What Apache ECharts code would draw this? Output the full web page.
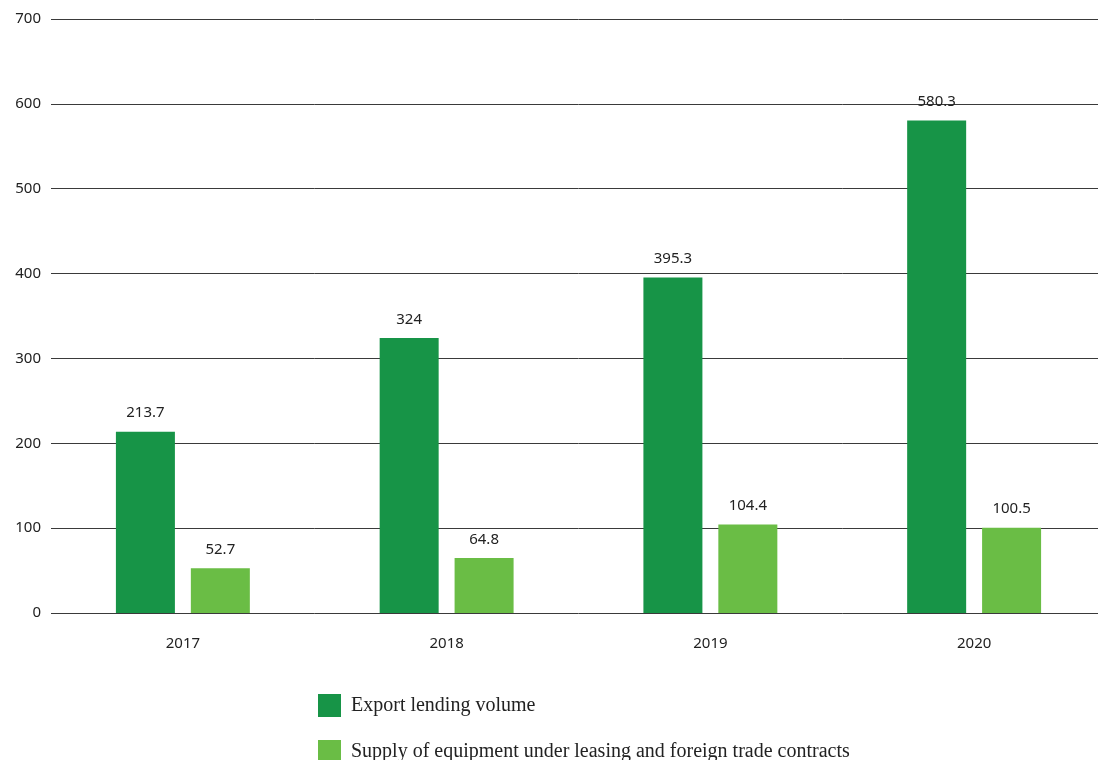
<!DOCTYPE html>
<html><head><meta charset="utf-8">
<script src="https://cdn.jsdelivr.net/npm/echarts@6/dist/echarts.min.js"></script>
<style>html,body{margin:0;padding:0;background:#fff;overflow:hidden}#c{width:1106px;height:760px}</style>
</head><body><div id="c"></div>
<script>
const categories = ['2017', '2018', '2019', '2020'];
const exportLending = [213.7, 324, 395.3, 580.3];
const supplyEquipment = [52.7, 64.8, 104.4, 100.5];
const seriesNames = ['Export lending volume', 'Supply of equipment under leasing and foreign trade contracts'];

const chart = echarts.init(document.getElementById('c'));
const labelStyle = {show: true, position: 'top', distance: 11, color: '#222', fontSize: 15, fontFamily: 'Noto Sans'};
const legendBase = {
  orient: 'vertical', left: 313, itemWidth: 23, itemHeight: 23,
  icon: 'rect',
  textStyle: {fontFamily: 'Liberation Serif', fontSize: 20, color: '#222', padding: [0, 0, 0, 5]}
};
chart.setOption({
  animation: false,
  textStyle: {fontFamily: 'Noto Sans'},
  grid: {left: 51, right: 0, top: 19, bottom: 147, containLabel: false},
  legend: [
    Object.assign({}, legendBase, {top: 689, data: [seriesNames[0]]}),
    Object.assign({}, legendBase, {top: 735, data: [seriesNames[1]]})
  ],
  xAxis: {
    type: 'category', data: categories,
    axisLine: {show: false}, axisTick: {show: false},
    axisLabel: {color: '#222', fontSize: 15, margin: 23}
  },
  yAxis: {
    type: 'value', min: 0, max: 700, interval: 100,
    axisLine: {show: false}, axisTick: {show: false},
    axisLabel: {color: '#222', fontSize: 15, margin: 10},
    splitLine: {lineStyle: {color: '#3a3a3a', width: 1}}
  },
  series: [
    {name: seriesNames[0], type: 'bar', data: exportLending, barWidth: 59, barGap: '27%',
     itemStyle: {color: '#179447'}, label: labelStyle},
    {name: seriesNames[1], type: 'bar', data: supplyEquipment, barWidth: 59,
     itemStyle: {color: '#6abd45'}, label: labelStyle}
  ]
});
</script></body></html>
